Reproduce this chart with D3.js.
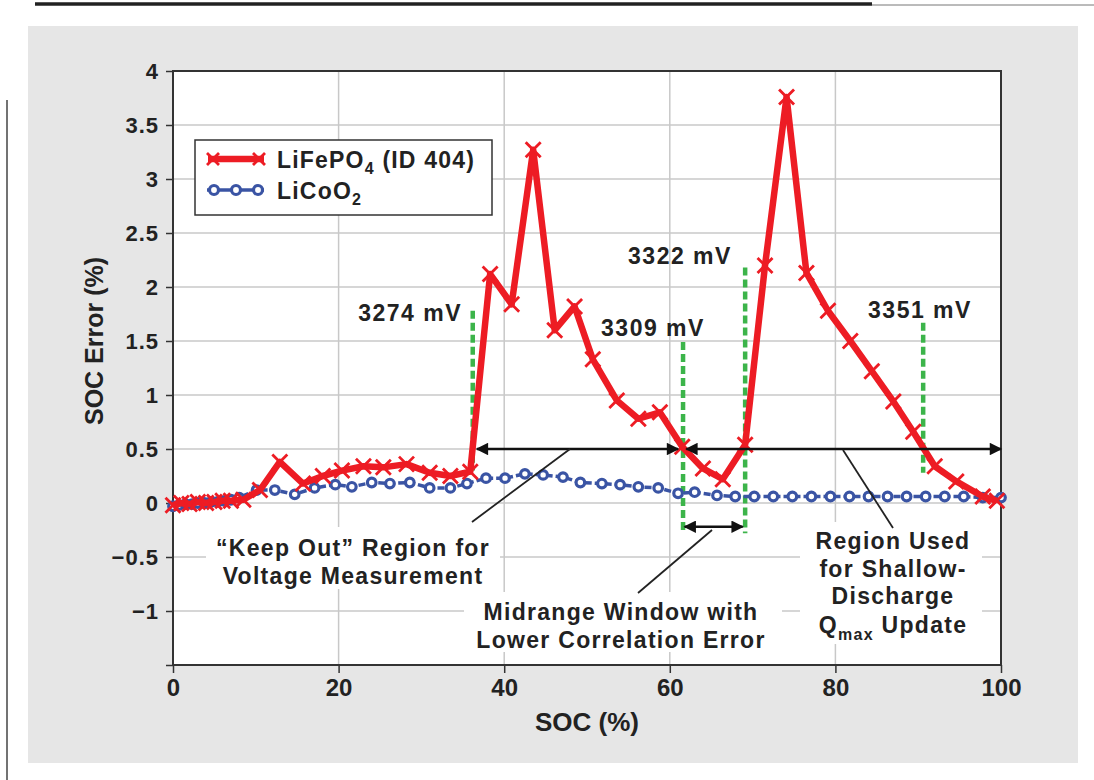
<!DOCTYPE html>
<html>
<head>
<meta charset="utf-8">
<script src="https://cdn.jsdelivr.net/npm/d3@7"></script>
<style>
  body { margin: 0; background: #fff; }
  svg { display: block; font-family: "Liberation Sans", Arial, sans-serif; }
  .narrow { font-family: "Liberation Sans Narrow", "Liberation Sans", Arial, sans-serif; }
</style>
</head>
<body>
<svg id="chart" width="1094" height="780"></svg>
<script>
// LiFePO4 (ID 404) SOC error
const fepSoc = [0, 1, 2, 3, 4, 5, 6, 7, 8.5, 10.5, 12.9, 15.7, 18.1, 20.4, 23, 25.4, 28.2, 31, 33.5, 35.9,
  38.3, 40.9, 43.5, 46.1, 48.5, 50.7, 53.6, 56.2, 58.8, 61.5, 64, 66.4, 69.1, 71.5, 74.1, 76.5,
  79.1, 81.8, 84.4, 87, 89.4, 92, 94.6, 97.8, 99.5];
const fepErr = [-0.02, 0, -0.01, 0.01, 0, 0.01, 0.02, 0.02, 0.03, 0.12, 0.38, 0.18, 0.25, 0.3, 0.34, 0.33, 0.36, 0.28, 0.25, 0.29,
  2.12, 1.84, 3.27, 1.6, 1.82, 1.33, 0.95, 0.78, 0.84, 0.52, 0.32, 0.22, 0.54, 2.2, 3.76, 2.13,
  1.78, 1.5, 1.22, 0.94, 0.66, 0.34, 0.2, 0.06, 0.02];

// LiCoO2 SOC error
const cooSoc = [0, 0.7, 1.5, 2.3, 3, 3.8, 4.6, 5.4, 6.2, 7, 8, 10.1, 12.3, 14.7, 17.1, 19.6, 21.6, 24, 26.2, 28.6,
  31, 33.5, 35.5, 37.8, 40.1, 42.5, 44.7, 47.1, 49.2, 51.8, 54, 56.2, 58.6, 61, 63, 65.7, 67.9,
  70.2, 72.5, 74.8, 77.1, 79.4, 81.7, 84, 86.3, 88.6, 90.9, 93.2, 95.5, 97.8, 100];
const cooErr = [-0.03, -0.02, -0.01, -0.01, 0, 0, 0.01, 0.01, 0.02, 0.03, 0.05, 0.12, 0.12, 0.08, 0.14, 0.17, 0.15, 0.19, 0.18, 0.19,
  0.14, 0.14, 0.18, 0.23, 0.23, 0.27, 0.26, 0.24, 0.19, 0.18, 0.17, 0.15, 0.14, 0.09, 0.1, 0.07, 0.06,
  0.06, 0.06, 0.06, 0.06, 0.06, 0.06, 0.06, 0.06, 0.06, 0.06, 0.06, 0.06, 0.05, 0.05];

// voltage markers (green dashed lines)
const mvLabels = ["3274 mV", "3309 mV", "3322 mV", "3351 mV"];
const mvSoc = [36.2, 61.6, 69.1, 90.6];
const mvTop = [1.78, 1.49, 2.18, 1.67];
const mvBottom = [0.3, -0.25, -0.28, 0.28];

const xTicks = [0, 20, 40, 60, 80, 100];
const yTicks = [-1.5, -1, -0.5, 0, 0.5, 1, 1.5, 2, 2.5, 3, 3.5, 4];

const svg = d3.select("#chart");
const red = "#ed1c24", blue = "#3a54a4", green = "#3cb44a";
const ink = "#222";

// page decorations
svg.append("line").attr("x1", 35).attr("x2", 872).attr("y1", 4).attr("y2", 4)
  .attr("stroke", "#222").attr("stroke-width", 3.5);
svg.append("line").attr("x1", 872).attr("x2", 1094).attr("y1", 5).attr("y2", 5)
  .attr("stroke", "#777").attr("stroke-width", 1);
svg.append("line").attr("x1", 7).attr("x2", 7).attr("y1", 100).attr("y2", 780)
  .attr("stroke", "#444").attr("stroke-width", 1.5);
svg.append("rect").attr("x", 28).attr("y", 26).attr("width", 1050).attr("height", 737)
  .attr("fill", "#e6e6e6");

const x = d3.scaleLinear().domain([0, 100]).range([173, 1001]);
const y = d3.scaleLinear().domain([-1.5, 4]).range([665, 71]);

svg.append("rect").attr("x", x(0)).attr("y", y(4))
  .attr("width", x(100) - x(0)).attr("height", y(-1.5) - y(4)).attr("fill", "#fff");

// grid
const grid = svg.append("g").attr("stroke", "#c8c8c8").attr("stroke-width", 1.5);
grid.selectAll(".gx").data(xTicks.slice(1, -1)).enter().append("line")
  .attr("x1", d => x(d)).attr("x2", d => x(d)).attr("y1", y(4)).attr("y2", y(-1.5));
grid.selectAll(".gy").data(yTicks.slice(1, -1)).enter().append("line")
  .attr("x1", x(0)).attr("x2", x(100)).attr("y1", d => y(d)).attr("y2", d => y(d));

// axes
const fmt = d => d < 0 ? "\u2212" + Math.abs(d) : String(d);
const yAxis = svg.append("g").attr("transform", `translate(${x(0)},0)`)
  .call(d3.axisLeft(y).tickValues(yTicks).tickSize(7).tickPadding(7)
    .tickFormat(d => d === -1.5 ? "" : fmt(d)));
const xAxis = svg.append("g").attr("transform", `translate(0,${y(-1.5)})`)
  .call(d3.axisBottom(x).tickValues(xTicks).tickSize(8).tickPadding(6));
[xAxis, yAxis].forEach(a => {
  a.select(".domain").remove();
  a.selectAll(".tick line").attr("stroke", "#333").attr("stroke-width", 1.5);
  a.selectAll("text").attr("fill", ink).attr("font-weight", "bold");
});
yAxis.selectAll("text").attr("font-size", 22).attr("letter-spacing", 1);
xAxis.selectAll("text").attr("class", "narrow").attr("font-size", 24);

svg.append("rect").attr("x", x(0)).attr("y", y(4))
  .attr("width", x(100) - x(0)).attr("height", y(-1.5) - y(4))
  .attr("fill", "none").attr("stroke", "#333").attr("stroke-width", 2);

svg.append("text").attr("class", "narrow")
  .attr("transform", "translate(103,341) rotate(-90)")
  .attr("text-anchor", "middle").attr("font-size", 25).attr("font-weight", "bold")
  .attr("fill", ink).text("SOC Error (%)");
svg.append("text").attr("class", "narrow")
  .attr("x", (x(0) + x(100)) / 2).attr("y", 731)
  .attr("text-anchor", "middle").attr("font-size", 26).attr("font-weight", "bold")
  .attr("fill", ink).text("SOC (%)");

// arrowheads
const defs = svg.append("defs");
defs.append("marker").attr("id", "ah").attr("viewBox", "0 0 10 10")
  .attr("refX", 9).attr("refY", 5).attr("markerWidth", 5.5).attr("markerHeight", 5)
  .attr("markerUnits", "strokeWidth").attr("orient", "auto-start-reverse")
  .append("path").attr("d", "M0,0 L10,5 L0,10 Z").attr("fill", "#111");

// white boxes behind annotation text
const labelBoxes = [
  [206, 527, 294, 62], [464, 592, 318, 60], [800, 522, 182, 122]
];
svg.selectAll(".lb").data(labelBoxes).enter().append("rect")
  .attr("x", d => d[0]).attr("y", d => d[1]).attr("width", d => d[2]).attr("height", d => d[3])
  .attr("fill", "#fff");

// green markers
svg.selectAll(".mv").data(mvSoc).enter().append("line")
  .attr("x1", d => x(d)).attr("x2", d => x(d))
  .attr("y1", (d, i) => y(mvTop[i])).attr("y2", (d, i) => y(mvBottom[i]))
  .attr("stroke", green).attr("stroke-width", 4.5).attr("stroke-dasharray", "8,4");

const mvPos = [[462, 321, "end"], [653, 336, "middle"], [680, 264, "middle"], [920, 318, "middle"]];
svg.selectAll(".mvt").data(mvLabels).enter().append("text")
  .attr("x", (d, i) => mvPos[i][0]).attr("y", (d, i) => mvPos[i][1])
  .attr("text-anchor", (d, i) => mvPos[i][2])
  .attr("font-size", 23).attr("letter-spacing", 1.5).attr("font-weight", "bold")
  .attr("fill", ink).text(d => d);

// LiCoO2
const cooData = cooSoc.map((s, i) => [s, cooErr[i]]);
svg.append("path").datum(cooData)
  .attr("d", d3.line().x(d => x(d[0])).y(d => y(d[1])))
  .attr("fill", "none").attr("stroke", blue).attr("stroke-width", 3.5).attr("stroke-dasharray", "7,3");
svg.selectAll(".coo").data(cooData).enter().append("circle")
  .attr("cx", d => x(d[0])).attr("cy", d => y(d[1])).attr("r", 4.3)
  .attr("fill", "#fff").attr("stroke", blue).attr("stroke-width", 3.2);

// LiFePO4
const fepData = fepSoc.map((s, i) => [s, fepErr[i]]);
svg.append("path").datum(fepData)
  .attr("d", d3.line().x(d => x(d[0])).y(d => y(d[1])))
  .attr("fill", "none").attr("stroke", red).attr("stroke-width", 6.5).attr("stroke-linejoin", "round");
const cross = (g, cx, cy, s) => g.append("path")
  .attr("d", `M${cx - s},${cy - s}L${cx + s},${cy + s}M${cx - s},${cy + s}L${cx + s},${cy - s}`)
  .attr("stroke", red).attr("stroke-width", 2.8).attr("fill", "none");
const marks = svg.append("g");
fepData.forEach(d => cross(marks, x(d[0]), y(d[1]), 7.5));

// arrows
const arrows = [[36.7, 61.0, 0.5], [62.0, 100, 0.5], [61.8, 68.8, -0.22]];
svg.selectAll(".arr").data(arrows).enter().append("line")
  .attr("x1", d => x(d[0])).attr("x2", d => x(d[1]))
  .attr("y1", d => y(d[2])).attr("y2", d => y(d[2]))
  .attr("stroke", "#111").attr("stroke-width", 2.5)
  .attr("marker-start", "url(#ah)").attr("marker-end", "url(#ah)");

// leader lines
const leaders = [[570, 449, 472, 522], [712, 530, 638, 593], [843, 450, 893, 528]];
svg.selectAll(".ld").data(leaders).enter().append("line")
  .attr("x1", d => d[0]).attr("y1", d => d[1]).attr("x2", d => d[2]).attr("y2", d => d[3])
  .attr("stroke", ink).attr("stroke-width", 1.8);

// annotation text
const notes = [
  [353, 556, ["\u201cKeep Out\u201d Region for", "Voltage Measurement"]],
  [621, 620, ["Midrange Window with", "Lower Correlation Error"]],
  [893, 549, ["Region Used", "for Shallow-", "Discharge"]]
];
notes.forEach(n => {
  const t = svg.append("text").attr("text-anchor", "middle").attr("font-size", 23)
    .attr("letter-spacing", 1.3).attr("font-weight", "bold").attr("fill", ink);
  n[2].forEach((s, i) => t.append("tspan").attr("x", n[0]).attr("y", n[1] + i * 27.5).text(s));
});
const q = svg.append("text").attr("x", 893).attr("y", 633).attr("text-anchor", "middle")
  .attr("font-size", 23).attr("letter-spacing", 1.3).attr("font-weight", "bold").attr("fill", ink);
q.append("tspan").text("Q");
q.append("tspan").attr("dy", 7).attr("font-size", 16).text("max");
q.append("tspan").attr("dy", -7).text(" Update");

// legend
const lg = svg.append("g");
lg.append("rect").attr("x", 195).attr("y", 140).attr("width", 297).attr("height", 75)
  .attr("fill", "#fff").attr("stroke", "#333").attr("stroke-width", 1.5);
lg.append("line").attr("x1", 208).attr("x2", 264).attr("y1", 159).attr("y2", 159)
  .attr("stroke", red).attr("stroke-width", 6.5);
cross(lg, 213, 159, 6);
cross(lg, 259, 159, 6);
lg.append("line").attr("x1", 207).attr("x2", 264).attr("y1", 190).attr("y2", 190)
  .attr("stroke", blue).attr("stroke-width", 3.5);
[214, 236, 258].forEach(cx => lg.append("circle").attr("cx", cx).attr("cy", 190).attr("r", 4.5)
  .attr("fill", "#fff").attr("stroke", blue).attr("stroke-width", 3.2));
const l1 = lg.append("text").attr("x", 277).attr("y", 168).attr("font-size", 23)
  .attr("letter-spacing", 1.2).attr("font-weight", "bold").attr("fill", ink);
l1.append("tspan").text("LiFePO");
l1.append("tspan").attr("dy", 6).attr("font-size", 16).text("4");
l1.append("tspan").attr("dy", -6).text(" (ID 404)");
const l2 = lg.append("text").attr("x", 277).attr("y", 199).attr("font-size", 23)
  .attr("letter-spacing", 1.2).attr("font-weight", "bold").attr("fill", ink);
l2.append("tspan").text("LiCoO");
l2.append("tspan").attr("dy", 6).attr("font-size", 16).text("2");
</script>
</body>
</html>
